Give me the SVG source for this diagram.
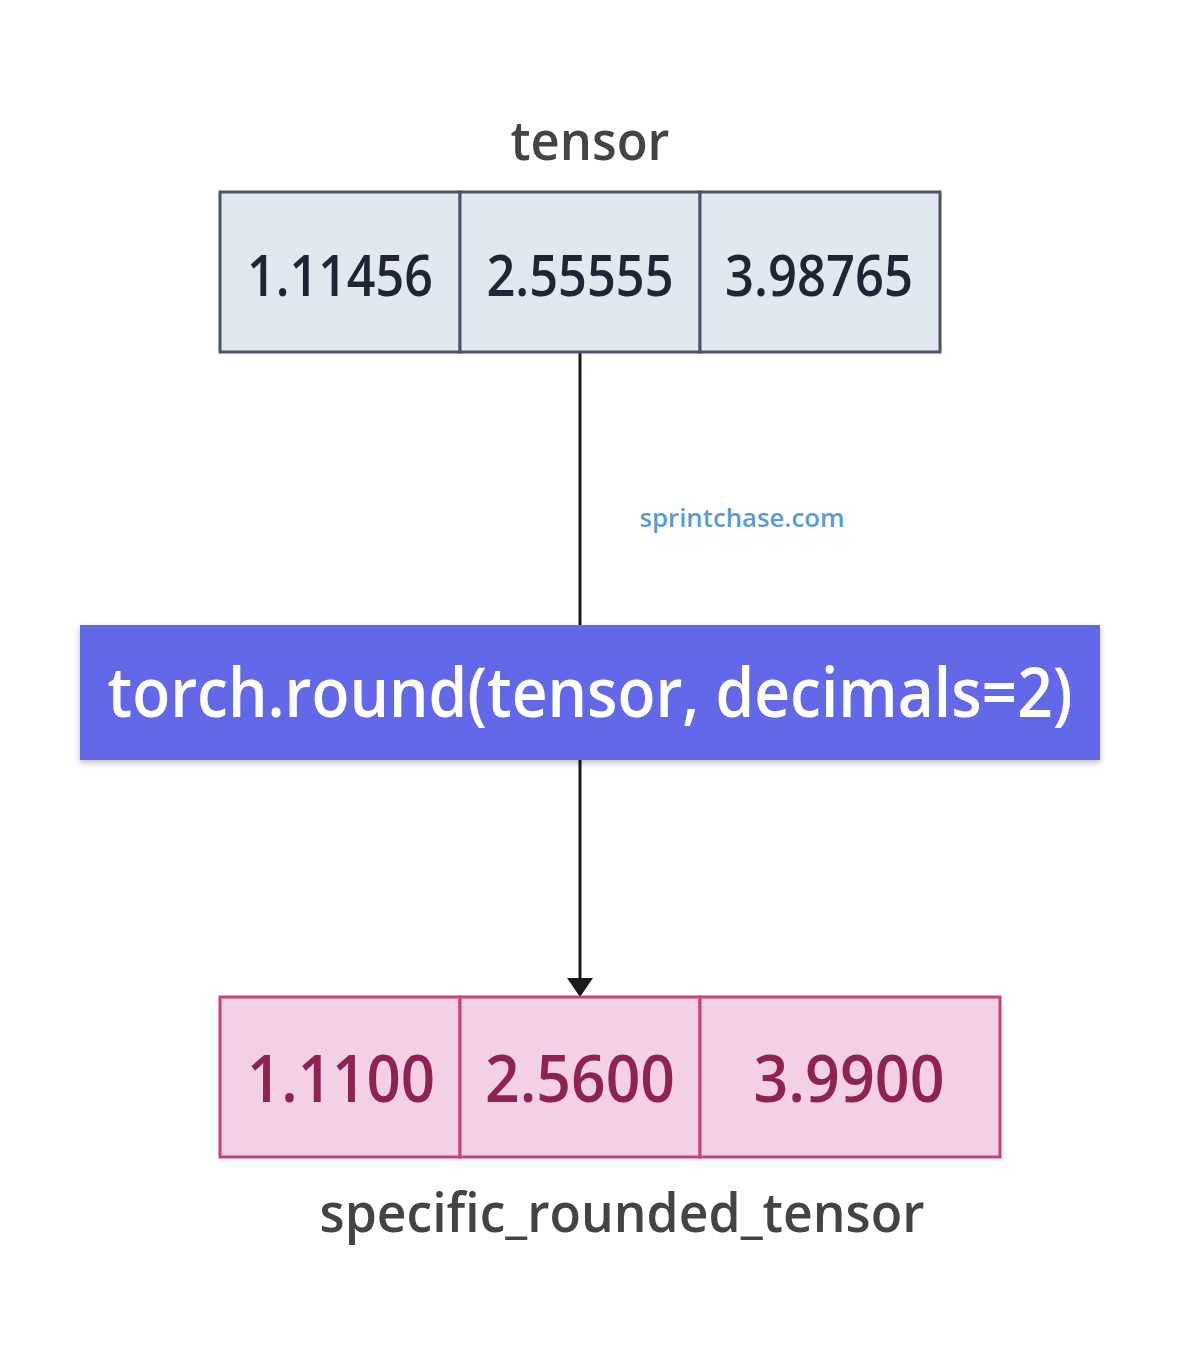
<svg xmlns="http://www.w3.org/2000/svg" width="1181" height="1350" viewBox="0 0 1181 1350">
<style>
text{font-family:"Open Sans","Noto Sans","DejaVu Sans",sans-serif;text-anchor:middle;font-weight:600}
.lbl{fill:#444444;font-size:54px}
.top rect{fill:#e2e8f0;stroke:#4a5568;stroke-width:3}
.top text{fill:#1e2535;font-size:58px}
.bot rect{fill:#f4d0e6;stroke:#cb3f7a;stroke-width:3}
.bot text{fill:#8e234f;font-size:66px}
.conn{stroke:#1a1a1a;stroke-width:3;fill:none}
</style>
<defs>
<filter id="sh" x="-5%" y="-10%" width="110%" height="130%">
<feDropShadow dx="0" dy="3" stdDeviation="3" flood-color="#000" flood-opacity="0.25"/>
</filter>
</defs>
<g id="connectors">
<line class="conn" x1="580" y1="352" x2="580" y2="625"/>
<line class="conn" x1="580" y1="760" x2="580" y2="978"/>
<path d="M567 978 L593 978 L580 997 Z" fill="#1a1a1a"/>
</g>
<g id="tensor-label"><text class="lbl" x="590" y="160" textLength="159" lengthAdjust="spacingAndGlyphs">tensor</text></g>
<g id="tensor" class="top">
<rect x="220" y="192" width="240" height="160"/>
<rect x="460" y="192" width="240" height="160"/>
<rect x="700" y="192" width="240" height="160"/>
<text x="340" y="296" textLength="186" lengthAdjust="spacingAndGlyphs">1.11456</text>
<text x="580" y="296" textLength="187" lengthAdjust="spacingAndGlyphs">2.55555</text>
<text x="819" y="296" textLength="188" lengthAdjust="spacingAndGlyphs">3.98765</text>
</g>
<g id="watermark"><text x="742" y="527" style="font-size:26px;fill:#5b9bd5" textLength="205" lengthAdjust="spacingAndGlyphs">sprintchase.com</text></g>
<g id="round-op">
<rect x="80" y="625" width="1020" height="135" fill="#6467e8" filter="url(#sh)"/>
<text x="590" y="717" style="font-size:68px;fill:#ffffff" textLength="965" lengthAdjust="spacingAndGlyphs">torch.round(tensor, decimals=2)</text>
</g>
<g id="specific_rounded_tensor" class="bot">
<rect x="220" y="997" width="240" height="160"/>
<rect x="460" y="997" width="240" height="160"/>
<rect x="700" y="997" width="300" height="160"/>
<text x="341" y="1102" textLength="188" lengthAdjust="spacingAndGlyphs">1.1100</text>
<text x="580" y="1102" textLength="190" lengthAdjust="spacingAndGlyphs">2.5600</text>
<text x="849" y="1102" textLength="191" lengthAdjust="spacingAndGlyphs">3.9900</text>
</g>
<g id="result-label"><text class="lbl" x="622" y="1232" textLength="605" lengthAdjust="spacingAndGlyphs">specific_rounded_tensor</text></g>
</svg>
